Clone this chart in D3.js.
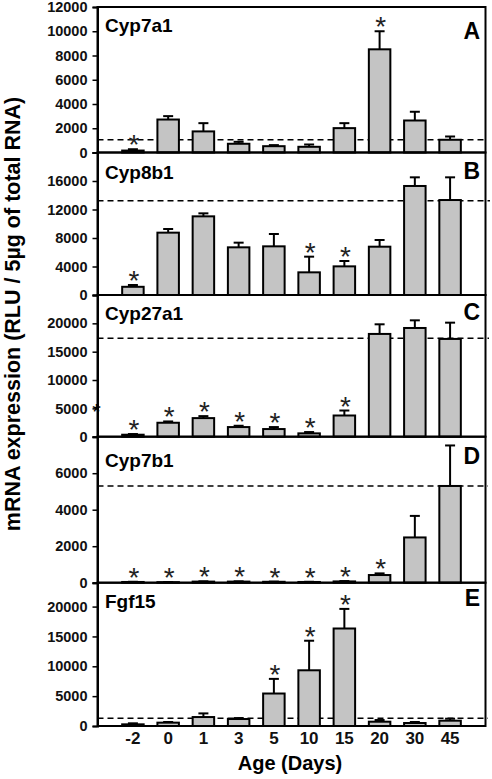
<!DOCTYPE html>
<html>
<head>
<meta charset="utf-8">
<script src="https://cdn.jsdelivr.net/npm/d3@7"></script>
<style>
  html, body { margin: 0; padding: 0; background: #fff; }
  svg { display: block; }
  text { font-family: "Liberation Sans", Arial, sans-serif; }
</style>
</head>
<body>
<svg id="chart" width="492" height="779"></svg>
<script>
// ---------------- DATA ----------------
const categories = ["-2", "0", "1", "3", "5", "10", "15", "20", "30", "45"];
const genes = ["Cyp7a1", "Cyp8b1", "Cyp27a1", "Cyp7b1", "Fgf15"];
const panelLetters = ["A", "B", "C", "D", "E"];

const cyp7a1Mean = [160, 2720, 1740, 720, 520, 470, 2010, 8510, 2640, 1050];
const cyp7a1Sem  = [110, 280, 680, 160, 90, 190, 410, 1490, 720, 270];
const cyp7a1Sig  = [1, 0, 0, 0, 0, 0, 0, 1, 0, 0];

const cyp8b1Mean = [1150, 8750, 11040, 6690, 6830, 3180, 4020, 6780, 15300, 13330];
const cyp8b1Sem  = [250, 510, 420, 655, 1730, 2200, 750, 940, 1215, 3185];
const cyp8b1Sig  = [1, 0, 0, 0, 0, 1, 1, 0, 0, 0];

const cyp27a1Mean = [350, 2460, 3280, 1700, 1350, 590, 3740, 18130, 19180, 17250];
const cyp27a1Sem  = [120, 230, 350, 230, 350, 230, 880, 1700, 1350, 2870];
const cyp27a1Sig  = [1, 1, 1, 1, 1, 1, 1, 0, 0, 0];

const cyp7b1Mean = [40, 30, 60, 60, 50, 40, 70, 420, 2480, 5300];
const cyp7b1Sem  = [10, 10, 15, 15, 10, 10, 20, 90, 1180, 2220];
const cyp7b1Sig  = [1, 1, 1, 1, 1, 1, 1, 1, 0, 0];

const fgf15Mean = [280, 560, 1500, 1170, 5440, 9330, 16330, 720, 500, 890];
const fgf15Sem  = [170, 110, 610, 160, 2450, 4950, 3280, 280, 170, 330];
const fgf15Sig  = [0, 0, 0, 0, 1, 1, 1, 0, 0, 0];

const referenceLevels = [1050, 13240, 17370, 5300, 1280];   // dashed lines
const yMax      = [12000, 20000, 25000, 8000, 24000];
const tickStep  = [2000, 4000, 5000, 2000, 5000];
const tickMax   = [12000, 16000, 20000, 6000, 20000];

const xTitle = "Age (Days)";
const yTitle = "mRNA expression (RLU / 5µg of total RNA)";

// ---------------- LAYOUT ----------------
const means = [cyp7a1Mean, cyp8b1Mean, cyp27a1Mean, cyp7b1Mean, fgf15Mean];
const sems  = [cyp7a1Sem, cyp8b1Sem, cyp27a1Sem, cyp7b1Sem, fgf15Sem];
const sigs  = [cyp7a1Sig, cyp8b1Sig, cyp27a1Sig, cyp7b1Sig, fgf15Sig];

const left = 97.5, right = 485.5;
const panelTop    = [7, 152.5, 295, 436.7, 582.7];
const panelBottom = [152.5, 295, 436.7, 582.7, 726];
const geneDy   = [25, 26, 25, 30, 25];
const letterDy = [32, 26, 25, 27, 23];
const dashEnd  = [485, 490, 489, 488, 488];

const svg = d3.select("#chart");

const x = d3.scaleBand()
  .domain(categories)
  .range([left, right])
  .paddingInner(0.39)
  .paddingOuter(0.7);

genes.forEach((gene, p) => {
  const y = d3.scaleLinear().domain([0, yMax[p]]).range([panelBottom[p], panelTop[p]]);
  const g = svg.append("g");
  const rows = categories.map((c, i) => ({ c, m: means[p][i], e: sems[p][i], s: sigs[p][i] }));

  // dashed reference line
  g.append("line")
    .attr("x1", left).attr("x2", dashEnd[p])
    .attr("y1", y(referenceLevels[p])).attr("y2", y(referenceLevels[p]))
    .attr("stroke", "#000").attr("stroke-width", 1.5)
    .attr("stroke-dasharray", "6,4");

  // error bars (upper only)
  g.selectAll(".err").data(rows).join("line")
    .attr("x1", d => x(d.c) + x.bandwidth() / 2)
    .attr("x2", d => x(d.c) + x.bandwidth() / 2)
    .attr("y1", d => y(d.m)).attr("y2", d => y(d.m + d.e))
    .attr("stroke", "#000").attr("stroke-width", 2);
  g.selectAll(".cap").data(rows).join("line")
    .attr("x1", d => x(d.c) + x.bandwidth() / 2 - 5)
    .attr("x2", d => x(d.c) + x.bandwidth() / 2 + 5)
    .attr("y1", d => y(d.m + d.e)).attr("y2", d => y(d.m + d.e))
    .attr("stroke", "#000").attr("stroke-width", 2);

  // bars
  g.selectAll(".bar").data(rows).join("rect")
    .attr("x", d => x(d.c))
    .attr("width", x.bandwidth())
    .attr("y", d => y(d.m))
    .attr("height", d => y(0) - y(d.m))
    .attr("fill", "#c4c4c4")
    .attr("stroke", "#000").attr("stroke-width", 2);

  // significance asterisks
  g.selectAll(".sig").data(rows.filter(d => d.s)).join("text")
    .attr("x", d => x(d.c) + x.bandwidth() / 2 + 1)
    .attr("y", d => y(d.m + d.e) + 5)
    .attr("text-anchor", "middle")
    .attr("font-size", 28)
    .attr("fill", "#222")
    .text("*");

  // frame
  g.append("rect")
    .attr("x", left).attr("y", panelTop[p])
    .attr("width", right - left).attr("height", panelBottom[p] - panelTop[p])
    .attr("fill", "none").attr("stroke", "#000").attr("stroke-width", 2);

  // y axis
  const ticks = d3.range(0, tickMax[p] + 1, tickStep[p]);
  const ax = g.append("g")
    .attr("transform", `translate(${left},0)`)
    .call(d3.axisLeft(y).tickValues(ticks).tickSize(5).tickPadding(5).tickFormat(d3.format("d")));
  ax.select(".domain").attr("stroke-width", 2);
  ax.selectAll(".tick line").attr("stroke-width", 1.5);
  ax.selectAll(".tick text")
    .attr("font-size", 14.5).attr("font-weight", "bold")
    .attr("font-family", "Liberation Sans, Arial, sans-serif").attr("fill", "#111");

  // gene label
  g.append("text")
    .attr("x", 105).attr("y", panelTop[p] + geneDy[p])
    .attr("font-size", 19).attr("font-weight", "bold")
    .text(gene);

  // panel letter
  g.append("text")
    .attr("x", 480).attr("y", panelTop[p] + letterDy[p])
    .attr("text-anchor", "end")
    .attr("font-size", 23).attr("font-weight", "bold")
    .text(panelLetters[p]);

  // stray axis asterisk in panel C
  if (p === 2) {
    g.append("text")
      .attr("x", left - 1).attr("y", y(5000) + 11)
      .attr("text-anchor", "middle")
      .attr("font-size", 22)
      .text("*");
  }

  // x axis labels on bottom panel
  if (p === genes.length - 1) {
    const xa = g.append("g")
      .attr("transform", `translate(0,${panelBottom[p]})`)
      .call(d3.axisBottom(x).tickSize(0).tickPadding(6));
    xa.select(".domain").remove();
    xa.selectAll(".tick text")
      .attr("font-size", 17).attr("font-weight", "bold")
      .attr("font-family", "Liberation Sans, Arial, sans-serif").attr("fill", "#111");
  }
});

// axis titles
svg.append("text")
  .attr("x", 290).attr("y", 770)
  .attr("text-anchor", "middle")
  .attr("font-size", 20).attr("font-weight", "bold")
  .text(xTitle);

svg.append("text")
  .attr("transform", "translate(20,314) rotate(-90)")
  .attr("text-anchor", "middle")
  .attr("font-size", 21.5).attr("font-weight", "bold")
  .text(yTitle);
</script>
</body>
</html>
